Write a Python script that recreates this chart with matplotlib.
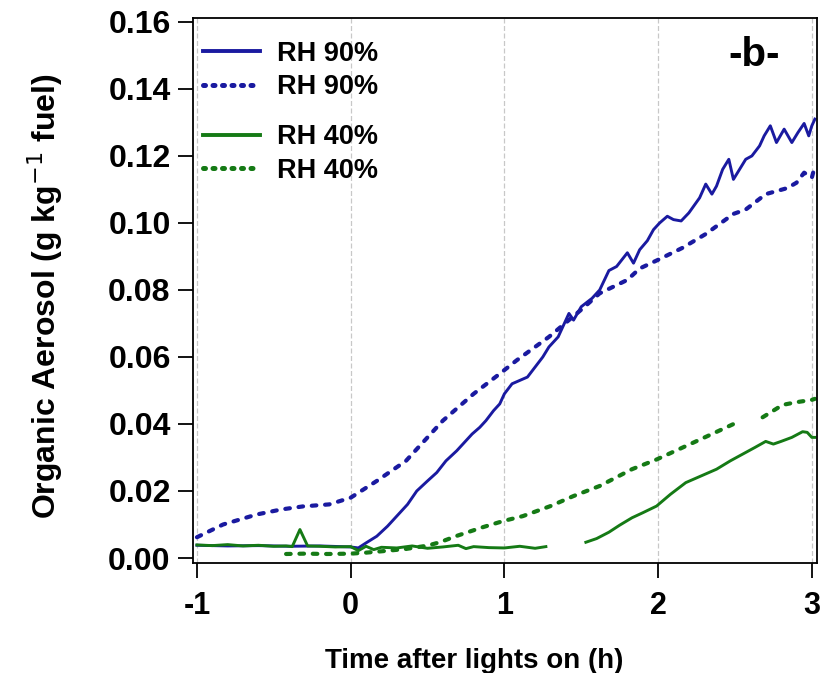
import numpy as np
import matplotlib
matplotlib.use("Agg")
import matplotlib.pyplot as plt
from matplotlib.lines import Line2D

nan = np.nan

# RH 90% solid
t_b1 = [-1.0, -0.8, -0.6, -0.4, -0.2, 0.0, 0.05, 0.1, 0.17, 0.24, 0.3, 0.37, 0.43, 0.5,
        0.56, 0.62, 0.69, 0.74, 0.79, 0.84, 0.88, 0.93, 0.97, 1.0, 1.05, 1.1, 1.15, 1.2,
        1.25, 1.29, 1.35, 1.42, 1.45, 1.5, 1.57, 1.62, 1.68, 1.73, 1.8, 1.84, 1.88, 1.93,
        1.97, 2.01, 2.06, 2.1, 2.15, 2.2, 2.27, 2.31, 2.35, 2.38, 2.42, 2.46, 2.49, 2.53,
        2.57, 2.61, 2.66, 2.69, 2.73, 2.77, 2.82, 2.87, 2.91, 2.95, 2.98, 3.0, 3.02]
oa_b1 = [0.0038, 0.0036, 0.0037, 0.0035, 0.0036, 0.0033, 0.0030, 0.0045, 0.0065, 0.0095,
         0.0125, 0.016, 0.020, 0.023, 0.0255, 0.029, 0.032, 0.0345, 0.037, 0.039, 0.041,
         0.044, 0.046, 0.049, 0.052, 0.053, 0.054, 0.057, 0.060, 0.063, 0.066, 0.073, 0.071,
         0.075, 0.0775, 0.080, 0.0858, 0.087, 0.0911, 0.088, 0.092, 0.0947, 0.098, 0.100,
         0.102, 0.101, 0.1006, 0.103, 0.1075, 0.1116, 0.1086, 0.111, 0.116, 0.119, 0.113,
         0.116, 0.119, 0.120, 0.123, 0.126, 0.129, 0.124, 0.128, 0.124, 0.127, 0.1297,
         0.126, 0.129, 0.131]

# RH 90% dotted
t_b2 = [-1.0, -0.83, -0.61, -0.45, -0.31, -0.14, 0.0, 0.17, 0.36, 0.6, 0.8, 0.97, 1.08,
        1.29, 1.51, 1.62, 1.8, 1.88, 2.0, 2.16, 2.31, 2.49, 2.57, 2.7, 2.84, 2.9, 2.95,
        3.0, 3.02]
oa_b2 = [0.0062, 0.010, 0.013, 0.0145, 0.0154, 0.016, 0.018, 0.023, 0.029, 0.041, 0.049,
         0.055, 0.059, 0.066, 0.0745, 0.079, 0.083, 0.0864, 0.089, 0.0926, 0.0967, 0.1027,
         0.104, 0.1086, 0.1104, 0.112, 0.115, 0.1135, 0.117]

# RH 40% solid (gap between 1.27 and 1.53 h)
t_g1 = [-1.0, -0.9, -0.8, -0.7, -0.6, -0.5, -0.42, -0.38, -0.33, -0.28, -0.2, -0.1, 0.0,
        0.05, 0.1, 0.15, 0.2, 0.3, 0.4, 0.5, 0.6, 0.7, 0.75, 0.8, 0.9, 1.0, 1.1, 1.2, 1.27,
        1.4,
        1.53, 1.6, 1.68, 1.75, 1.83, 1.9, 1.99, 2.08, 2.18, 2.28, 2.38, 2.47, 2.57, 2.63,
        2.7, 2.75, 2.8, 2.87, 2.94, 2.97, 3.0, 3.02]
oa_g1 = [0.0039, 0.0037, 0.0040, 0.0036, 0.0038, 0.0035, 0.0036, 0.0034, 0.0085, 0.0036,
         0.0035, 0.0033, 0.0034, 0.0022, 0.0035, 0.0025, 0.0032, 0.0030, 0.0036, 0.0029,
         0.0033, 0.0038, 0.0028, 0.0034, 0.0031, 0.0030, 0.0035, 0.0029, 0.0034,
         nan,
         0.0047, 0.0058, 0.0077, 0.0098, 0.012, 0.0135, 0.0155, 0.019, 0.0225, 0.0245,
         0.0265, 0.029, 0.0315, 0.033, 0.0348, 0.034, 0.0348, 0.036, 0.0377, 0.0375,
         0.036, 0.036]

# RH 40% dotted (short gap near 2.6 h)
t_g2 = [-0.42, -0.3, -0.15, 0.0, 0.1, 0.2, 0.36, 0.5, 0.58, 0.69, 0.86, 0.99, 1.12, 1.3,
        1.45, 1.62, 1.83, 1.99, 2.27, 2.51, 2.6, 2.68, 2.81, 2.9, 3.0, 3.02]
oa_g2 = [0.0012, 0.0013, 0.0012, 0.0013, 0.0016, 0.0020, 0.0027, 0.0037, 0.0047, 0.0066,
         0.0092, 0.011, 0.0125, 0.0155, 0.0185, 0.0215, 0.0265, 0.0294, 0.0353, 0.0404,
         nan, 0.042, 0.0457, 0.0465, 0.0472, 0.0475]

blue = "#1a1aa0"
green = "#157a15"
dot = (0, (1.1, 2.1))
leg_dot = (0, (0.4, 1.5))

plt.rcParams["font.family"] = ["Liberation Sans", "DejaVu Sans"]

fig = plt.figure(figsize=(8.21, 6.73), dpi=100)
ax = fig.add_axes([0.235, 0.1634, 0.76, 0.81])

ax.plot(t_b1, oa_b1, color=blue, lw=2.1)
ax.plot(t_b2, oa_b2, color=blue, lw=3.0, linestyle=dot, dash_capstyle="round")
ax.plot(t_g1, oa_g1, color=green, lw=2.1)
ax.plot(t_g2, oa_g2, color=green, lw=3.0, linestyle=dot, dash_capstyle="round")

ax.set_xlim(-1.026, 3.033)
ax.set_ylim(-0.0015, 0.1612)
ax.set_xticks([-1, 0, 1, 2, 3])
ax.set_xticklabels(["-1", "0", "1", "2", "3"])
yt = np.arange(0, 0.161, 0.02)
ax.set_yticks(yt)
ax.set_yticklabels([f"{v:.2f}" for v in yt])
ax.xaxis.grid(True, color="#c8c8c8", linestyle=(0, (4, 2)), lw=0.9)
ax.tick_params(direction="out", length=11, width=1.3)
ax.tick_params(axis="y", labelsize=23, pad=5)
ax.tick_params(axis="x", labelsize=22, pad=9)
for lab in ax.get_xticklabels() + ax.get_yticklabels():
    lab.set_fontweight("bold")
for s in ax.spines.values():
    s.set_linewidth(1.3)

ax.set_xlabel("Time after lights on (h)", fontsize=20, fontweight="bold")
ax.xaxis.set_label_coords(0.45, -0.155)
ax.set_ylabel("Organic Aerosol (g kg$^{-1}$ fuel)", fontsize=23, fontweight="bold")
ax.yaxis.set_label_coords(-0.205, 0.49)

ax.text(0.899, 0.932, "-b-", transform=ax.transAxes, fontsize=29, fontweight="bold",
        ha="center", va="center")

leg_kw = dict(frameon=False, prop={"size": 19.5, "weight": "bold"}, handlelength=2.1,
              handletextpad=0.65, labelspacing=0.27, borderpad=0, borderaxespad=0,
              loc="upper left")
h90 = [Line2D([], [], color=blue, lw=2.8),
       Line2D([], [], color=blue, lw=3.6, linestyle=leg_dot, dash_capstyle="round")]
h40 = [Line2D([], [], color=green, lw=2.8),
       Line2D([], [], color=green, lw=3.6, linestyle=leg_dot, dash_capstyle="round")]
leg1 = ax.legend(h90, ["RH 90%", "RH 90%"], bbox_to_anchor=(0.016, 0.958), **leg_kw)
ax.add_artist(leg1)
ax.legend(h40, ["RH 40%", "RH 40%"], bbox_to_anchor=(0.016, 0.805), **leg_kw)

fig.savefig("out.png", dpi=100)
